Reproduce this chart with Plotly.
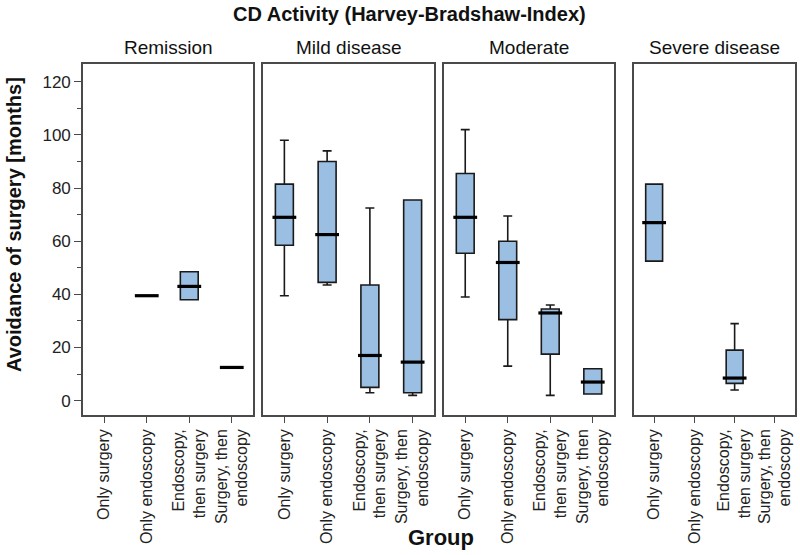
"""Box plots: avoidance of surgery by group, split by CD activity (HBI)."""
import plotly.graph_objects as go

# --- data -------------------------------------------------------------
groups = ["Only surgery", "Only endoscopy",
          "Endoscopy,<br>then surgery", "Surgery, then<br>endoscopy"]
activity = ["Remission", "Mild disease", "Moderate", "Severe disease"]

# one list per panel, order follows `groups`; None = no patients
remission_lower = [None, 39.5, 38.0, 12.5]
remission_q1 = [None, 39.5, 38.0, 12.5]
remission_median = [None, 39.5, 43.0, 12.5]
remission_q3 = [None, 39.5, 48.5, 12.5]
remission_upper = [None, 39.5, 48.5, 12.5]

mild_lower = [39.5, 43.5, 3.0, 2.0]
mild_q1 = [58.5, 44.5, 5.0, 3.0]
mild_median = [69.0, 62.5, 17.0, 14.5]
mild_q3 = [81.5, 90.0, 43.5, 75.5]
mild_upper = [98.0, 94.0, 72.5, 75.5]

moderate_lower = [39.0, 13.0, 2.0, 2.5]
moderate_q1 = [55.5, 30.5, 17.5, 2.5]
moderate_median = [69.0, 52.0, 33.0, 7.0]
moderate_q3 = [85.5, 60.0, 34.5, 12.0]
moderate_upper = [102.0, 69.5, 36.0, 12.0]

severe_lower = [52.5, None, 4.0, None]
severe_q1 = [52.5, None, 6.5, None]
severe_median = [67.0, None, 8.5, None]
severe_q3 = [81.5, None, 19.0, None]
severe_upper = [81.5, None, 29.0, None]

panels = [
    (remission_lower, remission_q1, remission_median, remission_q3, remission_upper),
    (mild_lower, mild_q1, mild_median, mild_q3, mild_upper),
    (moderate_lower, moderate_q1, moderate_median, moderate_q3, moderate_upper),
    (severe_lower, severe_q1, severe_median, severe_q3, severe_upper),
]

# --- styling ----------------------------------------------------------
FONT = "Liberation Sans, Arial, sans-serif"
BOX_FILL = "#9abfe2"
EDGE = "#1a1a1a"
FRAME = "#4a4a4a"
DOMAINS = [(0.0, 0.2388), (0.2528, 0.4930), (0.5070, 0.7458), (0.7739, 1.0)]

fig = go.Figure()

for i, (lo, q1, med, q3, hi) in enumerate(panels):
    xa = "x" if i == 0 else f"x{i + 1}"
    keep = [j for j in range(len(groups)) if med[j] is not None]
    xs = [groups[j] for j in keep]
    fig.add_trace(go.Box(
        x=xs,
        lowerfence=[lo[j] for j in keep],
        q1=[q1[j] for j in keep],
        median=[med[j] for j in keep],
        q3=[q3[j] for j in keep],
        upperfence=[hi[j] for j in keep],
        xaxis=xa, yaxis="y",
        width=0.42, whiskerwidth=0.5,
        fillcolor=BOX_FILL,
        line=dict(color=EDGE, width=1.6),
        boxpoints=False, hoverinfo="skip", showlegend=False,
    ))
    # heavier median bar like the SPSS output
    fig.add_trace(go.Scatter(
        x=xs, y=[med[j] for j in keep],
        xaxis=xa, yaxis="y", mode="markers",
        marker=dict(symbol="line-ew", size=17,
                    line=dict(color="black", width=3.2)),
        hoverinfo="skip", showlegend=False,
    ))

layout = dict(
    width=800, height=555,
    margin=dict(l=83, r=5, t=64, b=140),
    paper_bgcolor="white", plot_bgcolor="white",
    font=dict(family=FONT, color="#111", size=15),
    yaxis=dict(
        domain=[0, 1], range=[-5.4, 126.7], automargin=False,
        tickvals=[0, 20, 40, 60, 80, 100, 120],
        ticks="outside", ticklen=7, tickwidth=1.2, tickcolor=FRAME,
        minor=dict(ticks="outside", ticklen=4, tickwidth=1.2,
                   tickcolor=FRAME, dtick=10, tick0=0),
        showgrid=False, zeroline=False,
        showline=True, linecolor=FRAME, linewidth=1.6, mirror=True,
        tickfont=dict(size=17, color="#222"),
    ),
)
for i, (d0, d1) in enumerate(DOMAINS):
    key = "xaxis" if i == 0 else f"xaxis{i + 1}"
    layout[key] = dict(
        domain=[d0, d1], anchor="y", automargin=False,
        type="category", categoryorder="array", categoryarray=groups,
        range=[-0.5, 3.5], tickangle=-90,
        ticks="outside", ticklen=6, tickwidth=1.2, tickcolor=FRAME,
        showgrid=False, zeroline=False,
        showline=True, linecolor=FRAME, linewidth=1.6, mirror=True,
        tickfont=dict(size=16, color="#222"),
    )
    if i > 0:
        # extra y axes only to draw the panel side borders
        ykey = f"yaxis{i + 1}"
        layout[ykey] = dict(
            domain=[0, 1], range=[-5.4, 126.7], anchor=f"x{i + 1}",
            overlaying="y", showticklabels=False, ticks="", automargin=False,
            showgrid=False, zeroline=False,
            showline=True, linecolor=FRAME, linewidth=1.6, mirror=True,
        )
fig.update_layout(**layout)

# empty traces so that y axes 2..4 (panel frames) get drawn
for i in range(1, 4):
    fig.add_trace(go.Scatter(x=[], y=[], xaxis=f"x{i + 1}", yaxis=f"y{i + 1}",
                             showlegend=False, hoverinfo="skip"))

annotations = []
for name, (d0, d1) in zip(activity, DOMAINS):
    annotations.append(dict(
        text=name, x=(d0 + d1) / 2, y=1.048, xref="paper", yref="paper",
        xanchor="center", yanchor="middle", showarrow=False,
        font=dict(size=19, color="#111"),
    ))
annotations += [
    dict(text="<b>CD Activity (Harvey-Bradshaw-Index)</b>",
         x=0.459, y=1.143, xref="paper", yref="paper",
         xanchor="center", yanchor="middle", showarrow=False,
         font=dict(size=20, color="#111")),
    dict(text="<b>Group</b>", x=0.503, y=-0.350, xref="paper", yref="paper",
         xanchor="center", yanchor="middle", showarrow=False,
         font=dict(size=22, color="#111")),
    dict(text="<b>Avoidance of surgery [months]</b>", textangle=-90,
         x=-0.097, y=0.544, xref="paper", yref="paper",
         xanchor="center", yanchor="middle", showarrow=False,
         font=dict(size=20, color="#111")),
]
fig.update_layout(annotations=annotations)

# drop the default 8px body margin so the figure fills the window
fig.write_html("out.html", config={"displayModeBar": False},
               post_script="document.body.style.margin='0';")
